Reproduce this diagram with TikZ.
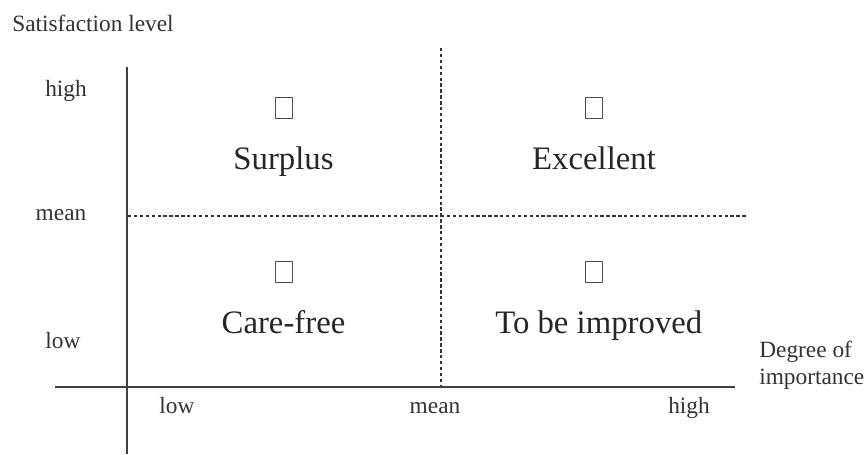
\documentclass[tikz,border=0pt]{standalone}
\usepackage{fontspec}
\setmainfont{Liberation Serif}
\usetikzlibrary{positioning}
\tikzset{
  lbl/.style={font=\fontsize{16.6}{19}\selectfont, text=black!80, inner sep=0pt},
  quad/.style={font=\fontsize{23.3}{26}\selectfont, text=black!85, inner sep=0pt},
  box/.style={draw=black!70, line width=0.5pt, minimum width=0.42cm, minimum height=0.52cm, inner sep=0pt},
  axis/.style={line width=1.2pt, draw=black!75},
  split/.style={line width=0.8pt, draw=black!80, dash pattern=on 2.4pt off 1.8pt}
}
\begin{document}
\begin{tikzpicture}[x=0.025cm, y=-0.025cm]
			%%%%% FRAME %%%%%
			\useasboundingbox (0, 0) rectangle (865, 454);
			
			%%%%% AXES %%%%%
			\coordinate (ytop) at (127, 67);
			\coordinate (ybot) at (127, 454);
			\coordinate (xleft) at (55, 387);
			\coordinate (xright) at (735, 387);
			\draw[axis] (ytop) -- (ybot);
			\draw[axis] (xleft) -- (xright);
			
			%%%%% MEAN LINES %%%%%
			\coordinate (vtop) at (441, 48);
			\coordinate (vbot) at (441, 386);
			\coordinate (hleft) at (128, 216);
			\coordinate (hright) at (748, 216);
			\draw[split] (vtop) -- (vbot);
			\draw[split] (hleft) -- (hright);
			
			%%%%% AXIS LABELS %%%%%
			\node[lbl, anchor=west] (ylabel) at (12, 23) {Satisfaction level};
			\node[lbl] (yhigh) at (66, 91) {high};
			\node[lbl] (ymean) at (61, 215) {mean};
			\node[lbl] (ylow) at (63, 341) {low};
			\node[lbl, anchor=base] (xlow) at (177, 413) {low};
			\node[lbl, anchor=base] (xmean) at (435, 413) {mean};
			\node[lbl, anchor=base] (xhigh) at (689, 413) {high};
			\node[lbl, anchor=west, align=left] (xlabel) at (759, 365) {Degree of\\importance};
			
			%%%%% QUADRANTS %%%%%
			\node[box] (boxsurplus) at (283.5, 107.5) {};
			\node[quad, below=0.7cm of boxsurplus] (surplus) {Surplus};
			\node[box] (boxexcellent) at (594, 107.5) {};
			\node[quad, below=0.7cm of boxexcellent] (excellent) {Excellent};
			\node[box] (boxcarefree) at (283.5, 271.5) {};
			\node[quad, below=0.7cm of boxcarefree] (carefree) {Care-free};
			\node[box] (boximprove) at (594, 271.5) {};
			\node[quad, below=0.7cm of boximprove, xshift=0.12cm] (improve) {To be improved};
			
			%%%%% END %%%%%
\end{tikzpicture}
\end{document}
